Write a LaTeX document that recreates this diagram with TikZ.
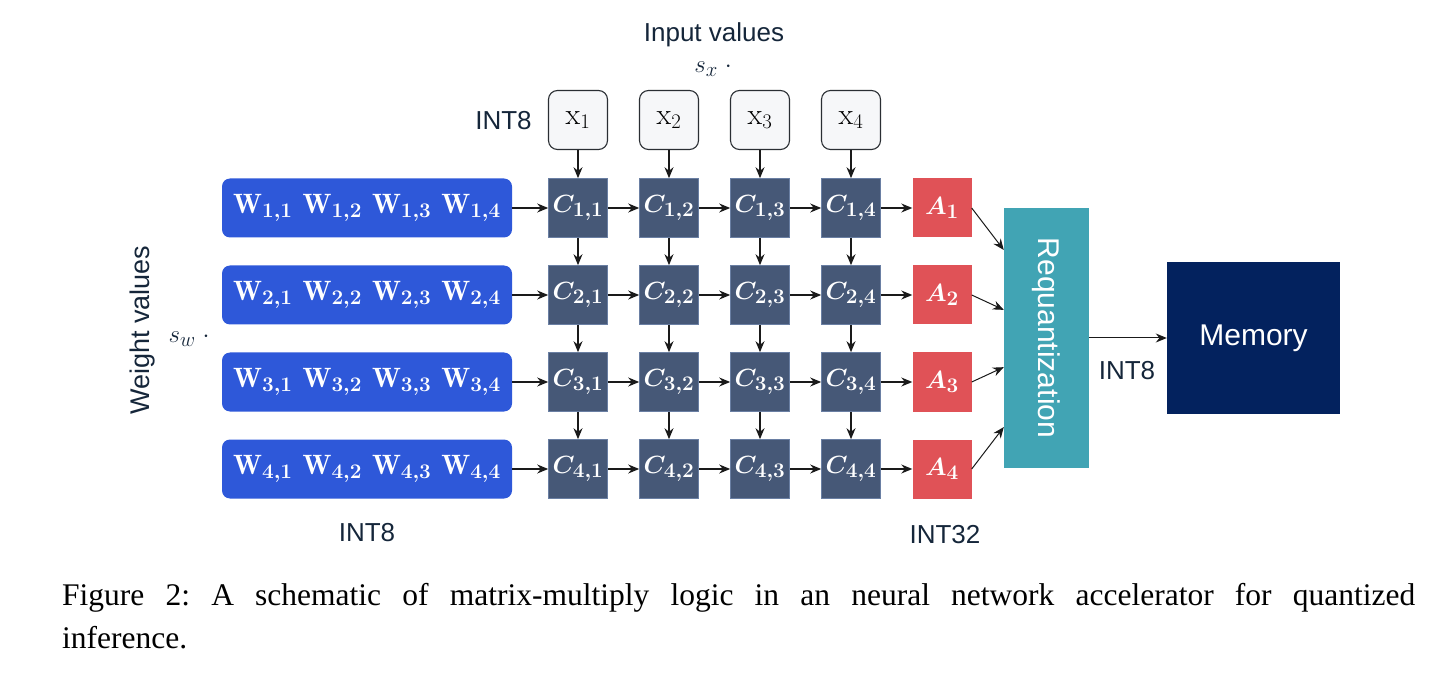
\documentclass[tikz,border=0pt]{standalone}
\usepackage{fontspec}
\newfontfamily\capfont{Liberation Serif}
\newfontfamily\lblfont{Liberation Sans}
\usetikzlibrary{arrows.meta,calc}
\DeclareMathSizes{28}{28}{21}{16}
\DeclareMathSizes{30}{30}{22}{17}
\definecolor{wblue}{HTML}{2E58D9}
\definecolor{cslate}{HTML}{465877}
\definecolor{cedge}{HTML}{6A7FA3}
\definecolor{ared}{HTML}{E05257}
\definecolor{rteal}{HTML}{41A4B4}
\definecolor{memnavy}{HTML}{03225E}
\definecolor{lbltxt}{HTML}{15263A}
\definecolor{xfill}{HTML}{F6F7F9}
\definecolor{xedge}{HTML}{2A2E33}
\definecolor{arrcol}{HTML}{1A1A1A}
\begin{document}
\begin{tikzpicture}[x=1pt,y=-1pt,
  mathtxt/.style={font=\fontsize{28}{33}\selectfont\boldmath},
  lbl/.style={text=lbltxt,font=\lblfont\fontsize{26}{31}\selectfont,inner sep=0pt},
  wbox/.style={rectangle,rounded corners=8pt,fill=wblue,minimum width=290pt,minimum height=59pt,inner sep=0pt,text=white,mathtxt},
  cbox/.style={rectangle,fill=cslate,draw=cedge,line width=0.6pt,minimum size=59pt,inner sep=0pt,text=white,mathtxt},
  abox/.style={rectangle,fill=ared,minimum size=59pt,inner sep=0pt,text=white,mathtxt},
  xbox/.style={rectangle,rounded corners=9pt,fill=xfill,draw=xedge,line width=1.1pt,minimum size=59pt,inner sep=0pt,text=black,font=\fontsize{30}{35}\selectfont},
  arr/.style={draw=arrcol,line width=1.2pt,-{Stealth[length=11pt,width=9pt]}}
]
\useasboundingbox (0,0) rectangle (1446,676);

% input boxes
\foreach \j/\cx in {1/578,2/669,3/760,4/851}{
  \node[xbox] (x\j) at (\cx,120) {$\mathrm{x}_{\j}$};
}
% grid
\foreach \i/\cy in {1/208,2/295,3/382,4/469}{
  \node[wbox] (w\i) at (367,\cy) {$\mathrm{W}_{\i,1}\hspace{10pt}\mathrm{W}_{\i,2}\hspace{10pt}\mathrm{W}_{\i,3}\hspace{10pt}\mathrm{W}_{\i,4}$};
  \foreach \j/\cx in {1/578,2/669,3/760,4/851}{
    \node[cbox] (c\i\j) at (\cx,\cy) {$C_{\i,\j}$};
  }
  \node[abox] (a\i) at (942,\cy) {$A_{\i}$};
}

\node[rectangle,fill=rteal,minimum width=85pt,minimum height=260pt,inner sep=0pt] (req) at (1046.5,338) {};
\node[text=white,font=\lblfont\fontsize{30}{36}\selectfont,rotate=-90] (reqtxt) at (req.center) {Requantization};
\node[rectangle,fill=memnavy,minimum width=173pt,minimum height=152pt,inner sep=0pt,text=white,font=\lblfont\fontsize{30}{36}\selectfont] (mem) at (1253.5,338) {Memory};

% arrows
\foreach \j in {1,2,3,4}{
  \draw[arr] (x\j) -- (c1\j);
}
\foreach \i in {1,2,3,4}{
  \draw[arr] (w\i) -- (c\i1);
  \draw[arr] (c\i1) -- (c\i2);
  \draw[arr] (c\i2) -- (c\i3);
  \draw[arr] (c\i3) -- (c\i4);
  \draw[arr] (c\i4) -- (a\i);
}
\foreach \j in {1,2,3,4}{
  \draw[arr] (c1\j) -- (c2\j);
  \draw[arr] (c2\j) -- (c3\j);
  \draw[arr] (c3\j) -- (c4\j);
}
\coordinate (r1) at ($(req.north west)!0.162!(req.south west)$);
\coordinate (r2) at ($(req.north west)!0.392!(req.south west)$);
\coordinate (r3) at ($(req.north west)!0.612!(req.south west)$);
\coordinate (r4) at ($(req.north west)!0.842!(req.south west)$);
\foreach \i in {1,2,3,4}{
  \draw[arr,line width=1.0pt] (a\i.east) -- (r\i);
}
\draw[arr,line width=1.0pt] (req.east) -- (mem.west);

% labels
\node[lbl,anchor=base] (inlbl) at (714,42) {Input values};
\node[text=lbltxt,font=\fontsize{28}{33}\selectfont,anchor=base,inner sep=0pt] (sx) at (713,73) {$s_x\;\cdot$};
\node[lbl,anchor=base] (int8a) at (503.5,130) {INT8};
\node[lbl,rotate=90,font=\lblfont\fontsize{27}{32}\selectfont] (wlbl) at (143,330) {Weight values};
\node[text=lbltxt,font=\fontsize{28}{33}\selectfont,inner sep=0pt] (sw) at (189,339) {$s_w\;\cdot$};
\node[lbl,anchor=base] (int8b) at (367,541) {INT8};
\node[lbl,anchor=base] (int32) at (945,543) {INT32};
\node[lbl,anchor=base] (int8c) at (1127,379) {INT8};

% caption
\node[anchor=base west,inner sep=0pt,font=\capfont\fontsize{31.5}{38}\selectfont] (cap1) at (62,605)
  {\frenchspacing\makebox[1353pt][s]{Figure 2: A schematic of matrix-multiply logic in an neural network accelerator for quantized}};
\node[anchor=base west,inner sep=0pt,font=\capfont\fontsize{31.5}{38}\selectfont] (cap2) at (62,648) {inference.};
\end{tikzpicture}
\end{document}
